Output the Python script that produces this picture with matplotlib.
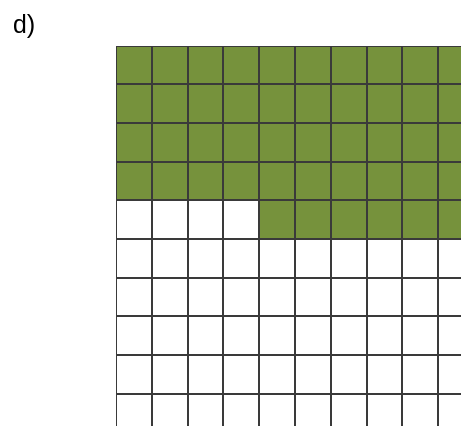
import numpy as np
import matplotlib.pyplot as plt
from matplotlib.colors import ListedColormap

# ============================================
# Data: 10x10 grid, shaded cells per row (filled from the right)
# ============================================
n_rows = 10
n_cols = 10
shaded_per_row = [10, 10, 10, 10, 6, 0, 0, 0, 0, 0]
panel_label = "d)"

grid = np.zeros((n_rows, n_cols))
for r, k in enumerate(shaded_per_row):
    if k > 0:
        grid[r, n_cols - k:] = 1

# ============================================
# Plot
# ============================================
W, H = 461, 427
fig = plt.figure(figsize=(W / 100, H / 100), dpi=100)

left_px, top_px = 116, 46.5
cell_w, cell_h = 35.8, 38.7
ax = fig.add_axes([left_px / W, 0, 1 - left_px / W, 1 - top_px / H])

cmap = ListedColormap(["white", "#76923c"])
ax.pcolormesh(
    np.arange(n_cols + 1),
    np.arange(n_rows + 1),
    grid,
    cmap=cmap,
    vmin=0,
    vmax=1,
    edgecolors="#3a3a3a",
    linewidth=1.4,
)

ax.set_xlim(0, (W - left_px) / cell_w)
ax.set_ylim((H - top_px) / cell_h, 0)
ax.axis("off")

fig.text(13 / W, 1 - 26 / H, panel_label, fontsize=18,
         family="Liberation Sans", va="center", ha="left")

fig.savefig("out.png", dpi=100)
